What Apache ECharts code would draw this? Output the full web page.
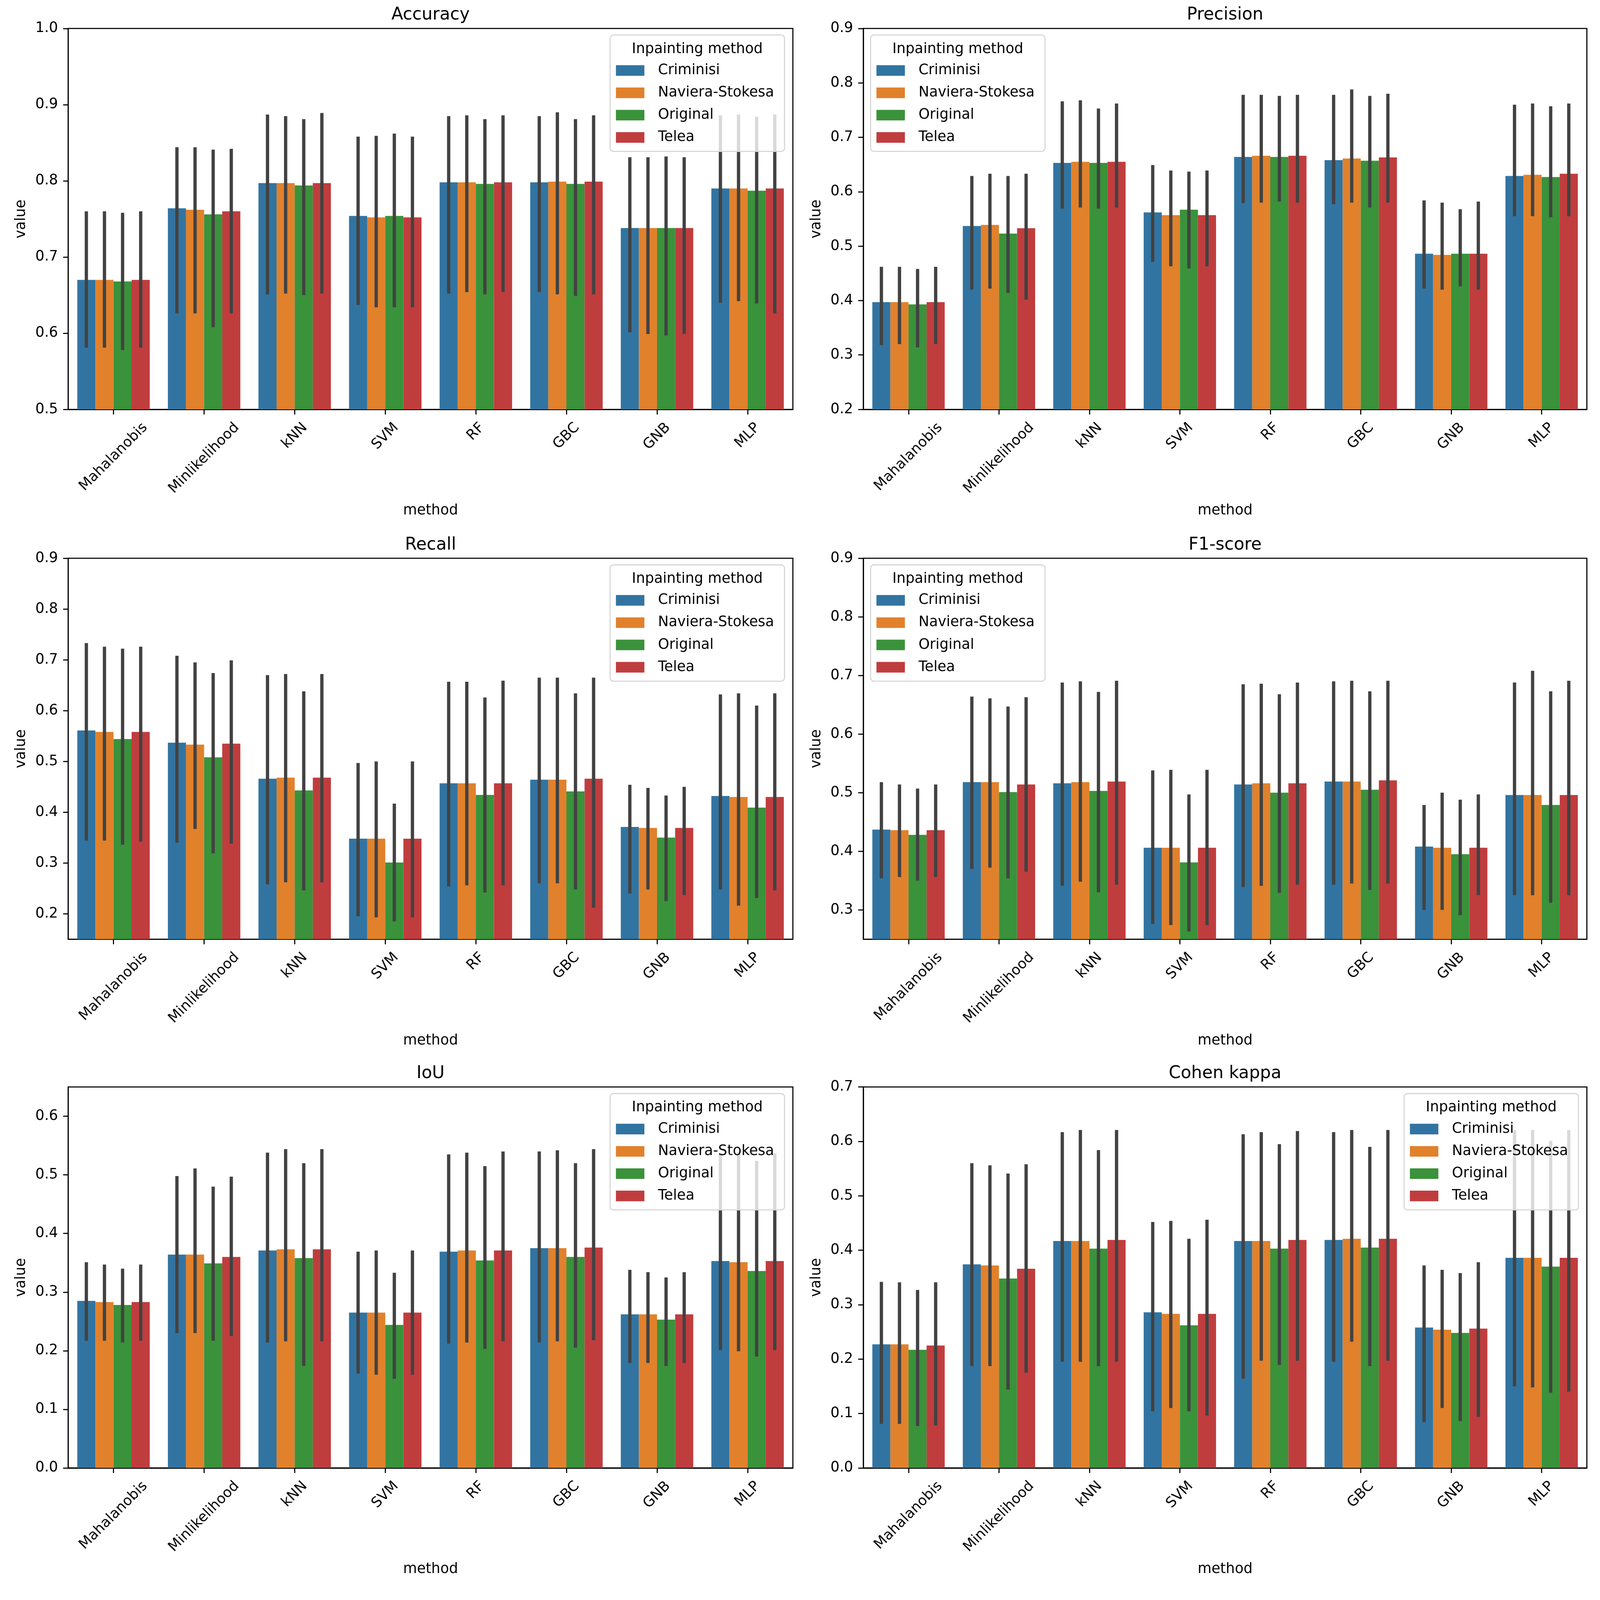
<!DOCTYPE html>
<html>
<head>
<meta charset="utf-8">
<script src="https://cdn.jsdelivr.net/npm/echarts@6/dist/echarts.min.js"></script>
<style>
  html, body { margin: 0; padding: 0; background: #fff; overflow: hidden; }
  #chart { width: 100vw; height: 100vh; }
</style>
</head>
<body>
<div id="chart"></div>
<script>
// categories
var methods = ['Mahalanobis', 'Minlikelihood', 'kNN', 'SVM', 'RF', 'GBC', 'GNB', 'MLP'];
var inpainting = ['Criminisi', 'Naviera-Stokesa', 'Original', 'Telea'];

// values: one row per inpainting method, one column per classifier
var accMean = [
  [0.670, 0.764, 0.797, 0.754, 0.798, 0.798, 0.738, 0.790],
  [0.670, 0.762, 0.797, 0.752, 0.798, 0.799, 0.738, 0.790],
  [0.668, 0.756, 0.794, 0.754, 0.796, 0.796, 0.738, 0.787],
  [0.670, 0.760, 0.797, 0.752, 0.798, 0.799, 0.738, 0.790]
];
var accLow = [
  [0.581, 0.626, 0.651, 0.637, 0.652, 0.654, 0.601, 0.640],
  [0.581, 0.626, 0.652, 0.634, 0.654, 0.651, 0.599, 0.642],
  [0.578, 0.608, 0.650, 0.634, 0.651, 0.649, 0.597, 0.639],
  [0.581, 0.626, 0.652, 0.634, 0.654, 0.651, 0.599, 0.626]
];
var accHigh = [
  [0.760, 0.844, 0.887, 0.858, 0.885, 0.885, 0.831, 0.886],
  [0.760, 0.844, 0.885, 0.859, 0.886, 0.890, 0.831, 0.887],
  [0.758, 0.841, 0.881, 0.862, 0.881, 0.881, 0.832, 0.884],
  [0.760, 0.842, 0.889, 0.858, 0.886, 0.886, 0.831, 0.887]
];

var precMean = [
  [0.397, 0.537, 0.653, 0.562, 0.664, 0.658, 0.486, 0.629],
  [0.397, 0.539, 0.655, 0.557, 0.666, 0.661, 0.484, 0.631],
  [0.393, 0.523, 0.653, 0.567, 0.664, 0.657, 0.486, 0.627],
  [0.397, 0.533, 0.655, 0.557, 0.666, 0.663, 0.486, 0.633]
];
var precLow = [
  [0.318, 0.420, 0.569, 0.471, 0.579, 0.577, 0.422, 0.555],
  [0.320, 0.422, 0.571, 0.463, 0.580, 0.580, 0.420, 0.555],
  [0.314, 0.414, 0.569, 0.459, 0.582, 0.571, 0.426, 0.553],
  [0.320, 0.402, 0.571, 0.463, 0.580, 0.580, 0.420, 0.555]
];
var precHigh = [
  [0.462, 0.629, 0.766, 0.649, 0.778, 0.778, 0.584, 0.760],
  [0.462, 0.633, 0.768, 0.639, 0.778, 0.788, 0.580, 0.762],
  [0.458, 0.629, 0.753, 0.637, 0.776, 0.776, 0.568, 0.757],
  [0.462, 0.633, 0.762, 0.639, 0.778, 0.780, 0.582, 0.762]
];

var recMean = [
  [0.561, 0.537, 0.466, 0.348, 0.457, 0.464, 0.371, 0.432],
  [0.558, 0.533, 0.468, 0.348, 0.457, 0.464, 0.369, 0.430],
  [0.544, 0.508, 0.443, 0.301, 0.434, 0.441, 0.350, 0.409],
  [0.558, 0.535, 0.468, 0.348, 0.457, 0.466, 0.369, 0.430]
];
var recLow = [
  [0.344, 0.340, 0.258, 0.195, 0.254, 0.260, 0.240, 0.248],
  [0.344, 0.367, 0.262, 0.193, 0.256, 0.260, 0.248, 0.216],
  [0.336, 0.319, 0.246, 0.185, 0.242, 0.248, 0.225, 0.231],
  [0.342, 0.338, 0.262, 0.193, 0.256, 0.212, 0.237, 0.246]
];
var recHigh = [
  [0.733, 0.708, 0.670, 0.497, 0.657, 0.665, 0.454, 0.632],
  [0.726, 0.695, 0.672, 0.500, 0.657, 0.665, 0.448, 0.634],
  [0.722, 0.674, 0.638, 0.417, 0.626, 0.634, 0.433, 0.610],
  [0.726, 0.699, 0.672, 0.500, 0.659, 0.665, 0.450, 0.634]
];

var f1Mean = [
  [0.437, 0.518, 0.516, 0.406, 0.514, 0.519, 0.408, 0.496],
  [0.436, 0.518, 0.518, 0.406, 0.516, 0.519, 0.406, 0.496],
  [0.428, 0.501, 0.503, 0.381, 0.500, 0.505, 0.395, 0.479],
  [0.436, 0.514, 0.519, 0.406, 0.516, 0.521, 0.406, 0.496]
];
var f1Low = [
  [0.354, 0.370, 0.341, 0.276, 0.339, 0.343, 0.300, 0.325],
  [0.356, 0.372, 0.348, 0.274, 0.341, 0.345, 0.300, 0.325],
  [0.350, 0.354, 0.330, 0.263, 0.329, 0.334, 0.291, 0.312],
  [0.356, 0.365, 0.343, 0.274, 0.343, 0.345, 0.325, 0.325]
];
var f1High = [
  [0.518, 0.664, 0.688, 0.538, 0.685, 0.690, 0.479, 0.688],
  [0.514, 0.661, 0.690, 0.539, 0.686, 0.691, 0.500, 0.708],
  [0.507, 0.647, 0.672, 0.497, 0.668, 0.673, 0.488, 0.673],
  [0.514, 0.663, 0.691, 0.539, 0.688, 0.691, 0.497, 0.691]
];

var iouMean = [
  [0.285, 0.364, 0.371, 0.265, 0.369, 0.375, 0.262, 0.353],
  [0.283, 0.364, 0.373, 0.265, 0.371, 0.375, 0.262, 0.351],
  [0.278, 0.349, 0.358, 0.244, 0.354, 0.360, 0.253, 0.336],
  [0.283, 0.360, 0.373, 0.265, 0.371, 0.376, 0.262, 0.353]
];
var iouLow = [
  [0.217, 0.230, 0.214, 0.161, 0.212, 0.214, 0.179, 0.201],
  [0.217, 0.230, 0.216, 0.159, 0.214, 0.216, 0.179, 0.199],
  [0.214, 0.217, 0.174, 0.152, 0.203, 0.205, 0.174, 0.190],
  [0.217, 0.225, 0.216, 0.159, 0.216, 0.218, 0.179, 0.201]
];
var iouHigh = [
  [0.351, 0.498, 0.538, 0.369, 0.535, 0.540, 0.338, 0.537],
  [0.347, 0.511, 0.544, 0.371, 0.538, 0.542, 0.334, 0.539],
  [0.340, 0.480, 0.520, 0.333, 0.515, 0.520, 0.325, 0.524],
  [0.347, 0.497, 0.544, 0.371, 0.540, 0.544, 0.334, 0.537]
];

var kapMean = [
  [0.227, 0.374, 0.417, 0.286, 0.417, 0.419, 0.258, 0.386],
  [0.227, 0.372, 0.417, 0.283, 0.417, 0.421, 0.254, 0.386],
  [0.217, 0.348, 0.403, 0.262, 0.403, 0.405, 0.248, 0.370],
  [0.225, 0.366, 0.419, 0.283, 0.419, 0.421, 0.256, 0.386]
];
var kapLow = [
  [0.081, 0.187, 0.195, 0.104, 0.164, 0.195, 0.084, 0.150],
  [0.081, 0.187, 0.195, 0.110, 0.197, 0.232, 0.110, 0.148],
  [0.077, 0.144, 0.187, 0.104, 0.189, 0.187, 0.086, 0.138],
  [0.078, 0.175, 0.195, 0.096, 0.197, 0.197, 0.094, 0.140]
];
var kapHigh = [
  [0.342, 0.560, 0.617, 0.452, 0.613, 0.617, 0.372, 0.621],
  [0.341, 0.556, 0.621, 0.454, 0.617, 0.621, 0.364, 0.621],
  [0.327, 0.541, 0.584, 0.421, 0.595, 0.590, 0.358, 0.601],
  [0.341, 0.558, 0.621, 0.456, 0.619, 0.621, 0.378, 0.621]
];

// tick labels
var accTicks = [0.5, 0.6, 0.7, 0.8, 0.9, 1.0];
var precTicks = [0.2, 0.3, 0.4, 0.5, 0.6, 0.7, 0.8, 0.9];
var recTicks = [0.2, 0.3, 0.4, 0.5, 0.6, 0.7, 0.8, 0.9];
var f1Ticks = [0.3, 0.4, 0.5, 0.6, 0.7, 0.8, 0.9];
var iouTicks = [0.0, 0.1, 0.2, 0.3, 0.4, 0.5, 0.6];
var kapTicks = [0.0, 0.1, 0.2, 0.3, 0.4, 0.5, 0.6, 0.7];

var panels = [
  { title: 'Accuracy',    mean: accMean,  low: accLow,  high: accHigh,  ticks: accTicks,  min: 0.5,  max: 1.0,  legend: 'right' },
  { title: 'Precision',   mean: precMean, low: precLow, high: precHigh, ticks: precTicks, min: 0.2,  max: 0.9,  legend: 'left' },
  { title: 'Recall',      mean: recMean,  low: recLow,  high: recHigh,  ticks: recTicks,  min: 0.15, max: 0.9,  legend: 'right' },
  { title: 'F1-score',    mean: f1Mean,   low: f1Low,   high: f1High,   ticks: f1Ticks,   min: 0.25, max: 0.9,  legend: 'left' },
  { title: 'IoU',         mean: iouMean,  low: iouLow,  high: iouHigh,  ticks: iouTicks,  min: 0,    max: 0.65, legend: 'right' },
  { title: 'Cohen kappa', mean: kapMean,  low: kapLow,  high: kapHigh,  ticks: kapTicks,  min: 0,    max: 0.7,  legend: 'right' }
];

var colors = ['#3274a1', '#e1812c', '#3a923a', '#c03d3e'];
var FONT = 'DejaVu Sans';

// layout is measured on the 4385x4344 reference, scaled uniformly to the viewport width
var k = window.innerWidth / 4385;
function X(v) { return v * k; }
function Y(v) { return v * k; }
function S(v) { return v * k; }

var colLeft = [187, 2366], colWidth = [1986, 1983];
var rowTop = [78, 1530, 2979], rowHeight = 1044;
var boxW = 478, boxH = 319;
var fs = S(39);

// matplotlib centres a 45° label's bounding box under its tick; emulate with per-label padding
var ctx = document.createElement('canvas').getContext('2d');
ctx.font = fs + 'px "' + FONT + '"';
var labelRich = {};
methods.forEach(function (m, i) {
  var L = ctx.measureText(m).width;
  var p = 0.5 * (L + fs * 1.15);
  labelRich['l' + i] = { fontFamily: FONT, fontSize: fs, color: '#000', padding: [p, p, 0, 0] };
});

var option = {
  backgroundColor: '#fff',
  animation: false,
  title: [], grid: [], xAxis: [], yAxis: [], legend: [], series: [], graphic: []
};

panels.forEach(function (p, idx) {
  var col = idx % 2, row = Math.floor(idx / 2);
  var left = colLeft[col], top = rowTop[row], width = colWidth[col];

  option.title.push({
    text: p.title, left: X(left + width / 2), top: Y(top - 60), textAlign: 'center', padding: 0,
    textStyle: { fontFamily: FONT, fontSize: S(47), fontWeight: 'normal', color: '#000' }
  });
  option.grid.push({
    left: X(left), top: Y(top), width: X(width), height: Y(rowHeight),
    show: true, borderColor: '#000', borderWidth: S(3), backgroundColor: 'transparent'
  });
  option.xAxis.push({
    type: 'category', gridIndex: idx, data: methods,
    name: 'method', nameLocation: 'middle', nameGap: Y(259),
    nameTextStyle: { fontFamily: FONT, fontSize: fs, color: '#000' },
    axisLine: { show: true, lineStyle: { color: '#000', width: S(3) } },
    axisTick: { show: true, alignWithLabel: true, length: S(14), lineStyle: { color: '#000', width: S(3) } },
    axisLabel: {
      interval: 0, rotate: 45, margin: S(28), align: 'center', verticalAlign: 'middle',
      fontFamily: FONT, fontSize: fs, color: '#000', rich: labelRich,
      formatter: function (v, i) { return '{l' + i + '|' + v + '}'; }
    },
    splitLine: { show: false }
  });
  option.yAxis.push({
    type: 'value', gridIndex: idx, min: p.min, max: p.max,
    name: 'value', nameLocation: 'middle', nameGap: X(109), nameRotate: 90,
    nameTextStyle: { fontFamily: FONT, fontSize: fs, color: '#000' },
    axisLine: { show: true, lineStyle: { color: '#000', width: S(3) } },
    axisTick: { show: true, length: S(14), customValues: p.ticks, lineStyle: { color: '#000', width: S(3) } },
    axisLabel: {
      customValues: p.ticks, margin: S(28), fontFamily: FONT, fontSize: fs, color: '#000',
      formatter: function (v) { return v.toFixed(1); }
    },
    splitLine: { show: false }
  });

  // legend box with its title, drawn behind the legend items
  var boxX = p.legend === 'right' ? left + width - 23 - boxW : left + 20;
  var boxY = top + 18;
  option.graphic.push({
    type: 'rect', z: 50,
    shape: { x: X(boxX), y: Y(boxY), width: X(boxW), height: Y(boxH), r: S(9) },
    style: { fill: 'rgba(255,255,255,0.8)', stroke: '#d6d6d6', lineWidth: S(3) }
  });
  option.graphic.push({
    type: 'text', z: 60, x: X(boxX + boxW / 2), y: Y(boxY + 39),
    style: {
      text: 'Inpainting method', font: fs + 'px "' + FONT + '"', fill: '#000',
      textAlign: 'center', textVerticalAlign: 'middle'
    }
  });
  option.legend.push({
    data: inpainting, orient: 'vertical', left: X(boxX + 16), top: Y(boxY + 78), padding: 0,
    itemWidth: S(78), itemHeight: S(29), itemGap: Y(22.6), icon: 'rect', selectedMode: false, z: 60,
    textStyle: { fontFamily: FONT, fontSize: fs, color: '#000', padding: [0, 0, 0, S(32)] }
  });

  inpainting.forEach(function (name, i) {
    option.series.push({
      type: 'bar', name: name, xAxisIndex: idx, yAxisIndex: idx,
      data: p.mean[i], barGap: '0%', barCategoryGap: '20%',
      itemStyle: { color: colors[i] }, z: 2
    });
  });
  inpainting.forEach(function (name, i) {
    option.series.push({
      type: 'custom', xAxisIndex: idx, yAxisIndex: idx, z: 3,
      data: methods.map(function (m, j) { return [j, p.low[i][j], p.high[i][j]]; }),
      encode: { x: 0, y: [1, 2] },
      renderItem: function (params, api) {
        var lo = api.coord([api.value(0), api.value(1)]);
        var hi = api.coord([api.value(0), api.value(2)]);
        var band = api.size([1, 0])[0];
        var off = (-0.3 + 0.2 * i) * band;
        return {
          type: 'line',
          shape: { x1: lo[0] + off, y1: lo[1], x2: hi[0] + off, y2: hi[1] },
          style: { stroke: '#424242', lineWidth: S(9) }
        };
      }
    });
  });
});

var chart = echarts.init(document.getElementById('chart'));
chart.setOption(option);
</script>
</body>
</html>
